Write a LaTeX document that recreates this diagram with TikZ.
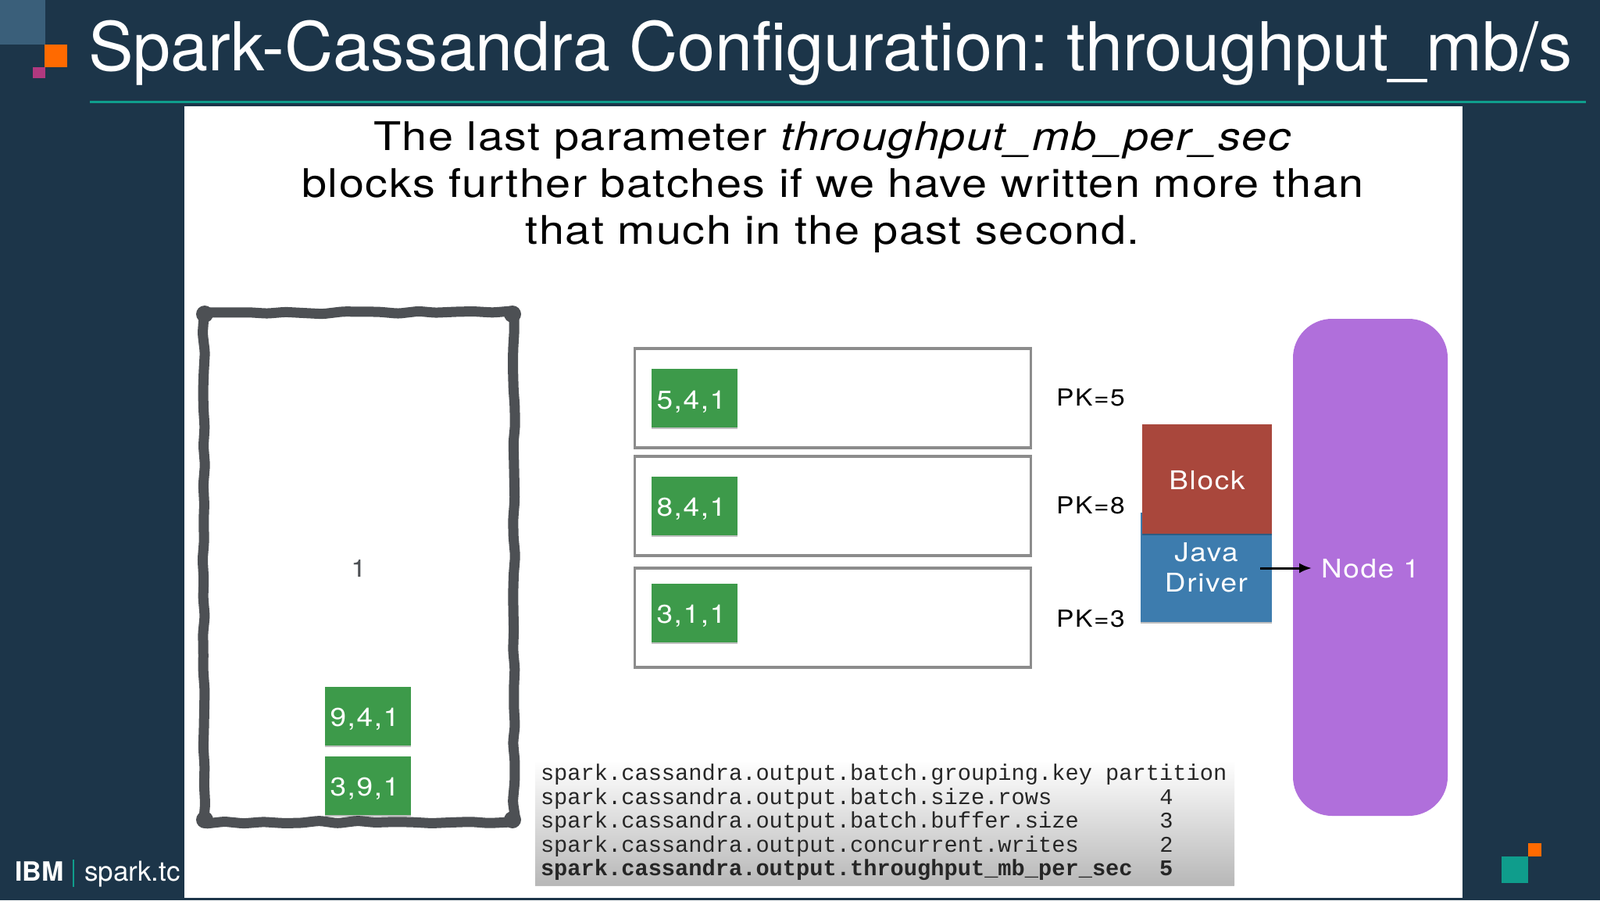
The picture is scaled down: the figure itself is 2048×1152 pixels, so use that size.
\documentclass[tikz,border=0pt]{standalone}
\usepackage{fontspec}
\setmainfont{TeX Gyre Heros}
\setmonofont{Liberation Mono}
\newfontfamily\widefont[FakeStretch=1.12,LetterSpace=5]{TeX Gyre Heros}
\newfontfamily\introfont[FakeStretch=1.14,LetterSpace=3]{TeX Gyre Heros}
\usetikzlibrary{arrows.meta,decorations.pathmorphing,shadows}
\definecolor{slidebg}{HTML}{1C3549}
\definecolor{slideteal}{HTML}{0F9D8C}
\definecolor{slideorange}{HTML}{FF6A00}
\definecolor{slidepink}{HTML}{B0397F}
\definecolor{slidesteel}{HTML}{3A5F7A}
\definecolor{recgreen}{HTML}{3D9A4A}
\definecolor{framegray}{HTML}{4D5054}
\definecolor{partgray}{HTML}{8C8C8C}
\definecolor{blockred}{HTML}{A9473C}
\definecolor{driverblue}{HTML}{3D7CAE}
\definecolor{nodepurple}{HTML}{B06FDB}
\newcommand{\fsz}[1]{\fontsize{#1}{#1}\selectfont}
\tikzset{
	softshadow/.style={drop shadow={shadow xshift=0pt,shadow yshift=-2pt,opacity=.25,fill=black}},
	recbox/.style={fill=recgreen,text=white,minimum width=110pt,minimum height=75pt,inner xsep=7pt,inner ysep=0pt,text width=96pt,align=left,text height=27pt,text depth=0pt,font=\widefont\fsz{33},softshadow},
	partbox/.style={draw=partgray,line width=3.5pt,fill=white,minimum width=507pt,minimum height=127pt,inner sep=0pt},
	pklabel/.style={anchor=base west,inner sep=0pt,font=\widefont\fsz{30}},
	whitelabel/.style={text=white,inner sep=0pt,font=\widefont\fsz{33},align=center},
	onelabel/.style={whitelabel,text height=27pt,text depth=0pt},
}
\begin{document}
\begin{tikzpicture}[x=1pt,y=-1pt]
	\useasboundingbox (0,0) rectangle (2048,1152);
	\fill [slidebg] (0,0) rectangle (2048,1152);
	\fill [slidesteel] (0,0) rectangle (58,57);
	\fill [slideorange] (57,57) rectangle (86,86);
	\fill [slidepink] (42,86) rectangle (58,100);
	\fill [slideteal] (1922,1096) rectangle (1956,1130);
	\fill [slideorange] (1956,1079) rectangle (1973,1096);
	\fill [slideteal] (115,129) rectangle (2030,132);
	\fill [white] (236,136) rectangle (1872,1149);
	\fill [slideteal] (93,1100) rectangle (95,1135);
	\node [anchor=base west,inner sep=0pt,text=white,font=\fsz{86.3}\frenchspacing] (title) at (113,90) {Spark-Cassandra Configuration: throughput\_mb/s};
	\node [anchor=base west,inner sep=0pt,text=white,font=\fsz{34}\bfseries] (ibm) at (19,1127) {IBM};
	\node [anchor=base west,inner sep=0pt,text=white,font=\fsz{35}] (sparktc) at (108,1127) {spark.tc};
	\node [anchor=north,inner sep=0pt,align=center,font=\introfont\fontsize{50.5}{60}\selectfont] (intro) at (1066,155)
		{The last parameter \textit{throughput\_mb\_per\_sec}\\ blocks further batches if we have written more than\\ that much in the past second.};
	\draw [framegray,line width=13pt,line join=round,decorate,decoration={random steps,segment length=24pt,amplitude=1.8pt},rounded corners=4pt]
		(261,400) rectangle (658,1052);
	\fill [framegray]
		(262,402) circle [radius=11]
		(656,402) circle [radius=11]
		(262,1049) circle [radius=11]
		(656,1049) circle [radius=11];
	\node [inner sep=0pt,text=framegray,font=\widefont\fsz{31}] (execone) at (459,727) {1};
	\node [recbox] (rec941) at (470.5,916) {9,4,1};
	\node [recbox] (rec391) at (470.5,1005) {3,9,1};
	\node [partbox] (part5) at (1066,509.5) {};
	\node [partbox] (part8) at (1066,647.5) {};
	\node [partbox] (part3) at (1066,790.5) {};
	\node [recbox] (rec541) at (888.5,509.5) {5,4,1};
	\node [recbox] (rec841) at (888.5,647) {8,4,1};
	\node [recbox] (rec311) at (888.5,784) {3,1,1};
	\node [pklabel] (pk5) at (1352,519) {PK=5};
	\node [pklabel] (pk8) at (1352,657) {PK=8};
	\node [pklabel] (pk3) at (1352,802) {PK=3};
	\node [whitelabel,fill=driverblue,minimum width=168pt,minimum height=140pt,softshadow] (driver) at (1544,726) {Java\\[6pt] Driver};
	\node [onelabel,fill=blockred,minimum width=166pt,minimum height=140pt,softshadow] (block) at (1545,613) {Block};
	\node [onelabel,fill=nodepurple,minimum width=198pt,minimum height=636pt,rounded corners=50pt] (node1) at (1754,726) {Node 1};
	\coordinate (sendstart) at (1613,727);
	\coordinate (sendend) at (1679,727);
	\draw [-{Latex[length=16pt,width=13pt]},line width=3pt] (sendstart) -- (sendend);
	\node [top color=white,bottom color=black!28,minimum width=895pt,minimum height=159pt,text width=881pt,inner xsep=7pt,inner ysep=0pt,align=left,text=black!85,font=\ttfamily\fontsize{28.7}{30.5}\selectfont,softshadow] (settings) at (1132.5,1052.5)
		{spark.cassandra.output.batch.grouping.key\hphantom{0}partition\\
		spark.cassandra.output.batch.size.rows\hphantom{00000000}4\\
		spark.cassandra.output.batch.buffer.size\hphantom{000000}3\\
		spark.cassandra.output.concurrent.writes\hphantom{000000}2\\
		\textbf{spark.cassandra.output.throughput\_mb\_per\_sec\hphantom{00}5}};
\end{tikzpicture}
\end{document}
